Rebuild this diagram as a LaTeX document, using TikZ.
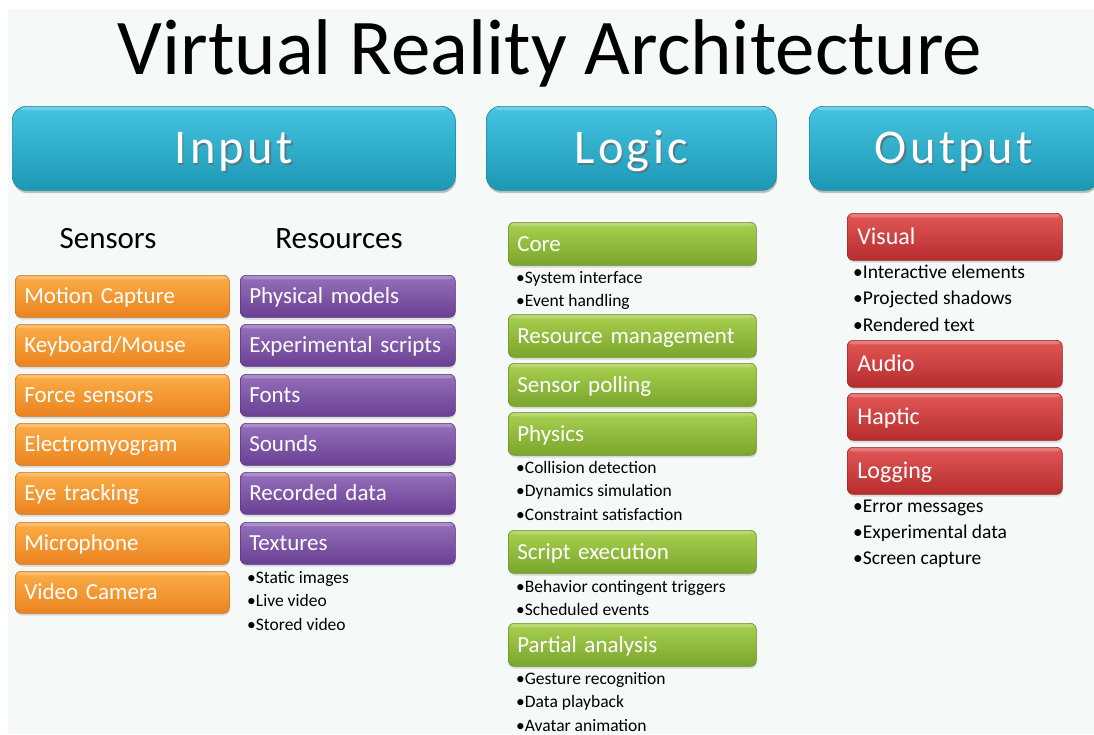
\documentclass[tikz,border=0pt]{standalone}
\usepackage{fontspec}
\setmainfont{Carlito}
\newfontfamily\headfont[LetterSpace=7]{Carlito}
\usetikzlibrary{shadows}

% palette
\definecolor{slidebg}{HTML}{F5F9F7}
\definecolor{cyTop}{HTML}{45C3DF}
\definecolor{cyBot}{HTML}{1C98B5}
\definecolor{cyEdge}{HTML}{1A86A0}
\definecolor{orTop}{HTML}{FBAE48}
\definecolor{orBot}{HTML}{EB8320}
\definecolor{orEdge}{HTML}{CF741C}
\definecolor{puTop}{HTML}{9571BB}
\definecolor{puBot}{HTML}{6B3F94}
\definecolor{puEdge}{HTML}{5A3480}
\definecolor{grTop}{HTML}{A8D050}
\definecolor{grBot}{HTML}{7AA62C}
\definecolor{grEdge}{HTML}{6A9027}
\definecolor{rdTop}{HTML}{E25656}
\definecolor{rdBot}{HTML}{B72D2D}
\definecolor{rdEdge}{HTML}{9E2727}
\definecolor{embossgrey}{HTML}{4F7C88}

% white lettering with a soft grey shadow behind it
\newcommand{\embossed}[1]{\makebox[0pt][l]{\hspace{1.3pt}\raisebox{-1.3pt}{\textcolor{embossgrey}{#1}}}#1}

\tikzset{
  tile/.style={rounded corners=6pt, anchor=north west, inner ysep=0pt,
    text=white, align=left, text depth=0pt,
    line width=0.6pt,
    drop shadow={opacity=0.25, shadow xshift=0.6pt, shadow yshift=-2.2pt},
    path picture={\fill[white, opacity=0.22]
      (path picture bounding box.north west) rectangle
      ([yshift=-4pt]path picture bounding box.north east);}},
  headbox/.style={tile, rounded corners=14pt, align=center, inner xsep=0pt,
    top color=cyTop, bottom color=cyBot, draw=cyEdge,
    minimum height=84pt, text height=31pt,
    drop shadow={opacity=0.35, shadow xshift=0.8pt, shadow yshift=-2.8pt},
    font=\headfont\fontsize{48.5}{48.5}\selectfont},
  sensorbox/.style={tile, inner xsep=9pt, top color=orTop, bottom color=orBot,
    draw=orEdge, minimum height=42pt, text width=196pt, text height=14.8pt,
    font=\fontsize{23}{23}\selectfont},
  resourcebox/.style={tile, inner xsep=9pt, top color=puTop, bottom color=puBot,
    draw=puEdge, minimum height=42pt, text width=197pt, text height=14.8pt,
    font=\fontsize{23}{23}\selectfont},
  logicbox/.style={tile, inner xsep=9pt, top color=grTop, bottom color=grBot,
    draw=grEdge, minimum height=43pt, text width=230pt, text height=14.8pt,
    font=\fontsize{23}{23}\selectfont},
  outputbox/.style={tile, inner xsep=10pt, top color=rdTop, bottom color=rdBot,
    draw=rdEdge, minimum height=47pt, text width=195pt, text height=15.5pt,
    font=\fontsize{24}{24}\selectfont},
  bullet/.style={anchor=base west, inner sep=0pt, text=black,
    font=\fontsize{17.5}{17.5}\selectfont},
  bigbullet/.style={bullet, font=\fontsize{19.5}{19.5}\selectfont},
  column/.style={anchor=base, inner sep=0pt, text=black,
    font=\fontsize{31}{31}\selectfont}
}

\begin{document}
\begin{tikzpicture}[x=1pt, y=-1pt]
\useasboundingbox (0,0) rectangle (1094,734);
\fill[white] (0,0) rectangle (1094,734);
\fill[slidebg] (8,9) rectangle (1094,734);

% title
\node[anchor=base, inner sep=0pt, font=\fontsize{79}{79}\selectfont] (title)
  at (550,74) {Virtual Reality Architecture};

% section headers
\node[headbox, minimum width=443pt] (input)  at (12,106)  {\embossed{Input}};
\node[headbox, minimum width=290pt] (logic)  at (486,106) {\embossed{Logic}};
\node[headbox, minimum width=289pt] (output) at (809,106) {\embossed{Output}};

% input: sensors and resources
\node[column] (sensors)   at (108,248) {Sensors};
\node[column] (resources) at (339,248) {Resources};

\node[sensorbox] (s1) at (15,275) {Motion Capture};
\node[sensorbox] (s2) at (15,324) {Keyboard/Mouse};
\node[sensorbox] (s3) at (15,374) {Force sensors};
\node[sensorbox] (s4) at (15,423) {Electromyogram};
\node[sensorbox] (s5) at (15,472) {Eye tracking};
\node[sensorbox] (s6) at (15,522) {Microphone};
\node[sensorbox] (s7) at (15,571) {Video Camera};

\node[resourcebox] (r1) at (240,275) {Physical models};
\node[resourcebox] (r2) at (240,324) {Experimental scripts};
\node[resourcebox] (r3) at (240,374) {Fonts};
\node[resourcebox] (r4) at (240,423) {Sounds};
\node[resourcebox] (r5) at (240,472) {Recorded data};
\node[resourcebox] (r6) at (240,522) {Textures};

\foreach \t [count=\i] in {Static images, Live video, Stored video}
  \node[bullet] (tex\i) at (247,{583+(\i-1)*23.5}) {•\t};

% logic
\node[logicbox] (core)    at (508,222) {Core};
\node[logicbox] (resmgmt) at (508,314) {Resource management};
\node[logicbox] (polling) at (508,363) {Sensor polling};
\node[logicbox] (physics) at (508,412) {Physics};
\node[logicbox] (script)  at (508,530) {Script execution};
\node[logicbox] (partial) at (508,623) {Partial analysis};

\foreach \t [count=\i] in {System interface, Event handling}
  \node[bullet] (core\i) at (516,{283+(\i-1)*23.2}) {•\t};
\foreach \t [count=\i] in {Collision detection, Dynamics simulation, Constraint satisfaction}
  \node[bullet] (phys\i) at (516,{473+(\i-1)*23.8}) {•\t};
\foreach \t [count=\i] in {Behavior contingent triggers, Scheduled events}
  \node[bullet] (scr\i) at (516,{592+(\i-1)*23.2}) {•\t};
\foreach \t [count=\i] in {Gesture recognition, Data playback, Avatar animation}
  \node[bullet] (part\i) at (516,{684+(\i-1)*23.5}) {•\t};

% output
\node[outputbox] (visual)  at (847,213) {Visual};
\node[outputbox] (audio)   at (847,340) {Audio};
\node[outputbox] (haptic)  at (847,393) {Haptic};
\node[outputbox] (logging) at (847,447) {Logging};

\foreach \t [count=\i] in {Interactive elements, Projected shadows, Rendered text}
  \node[bigbullet] (vis\i) at (853,{278+(\i-1)*26.5}) {•\t};
\foreach \t [count=\i] in {Error messages, Experimental data, Screen capture}
  \node[bigbullet] (log\i) at (853,{512+(\i-1)*26}) {•\t};
\end{tikzpicture}
\end{document}
